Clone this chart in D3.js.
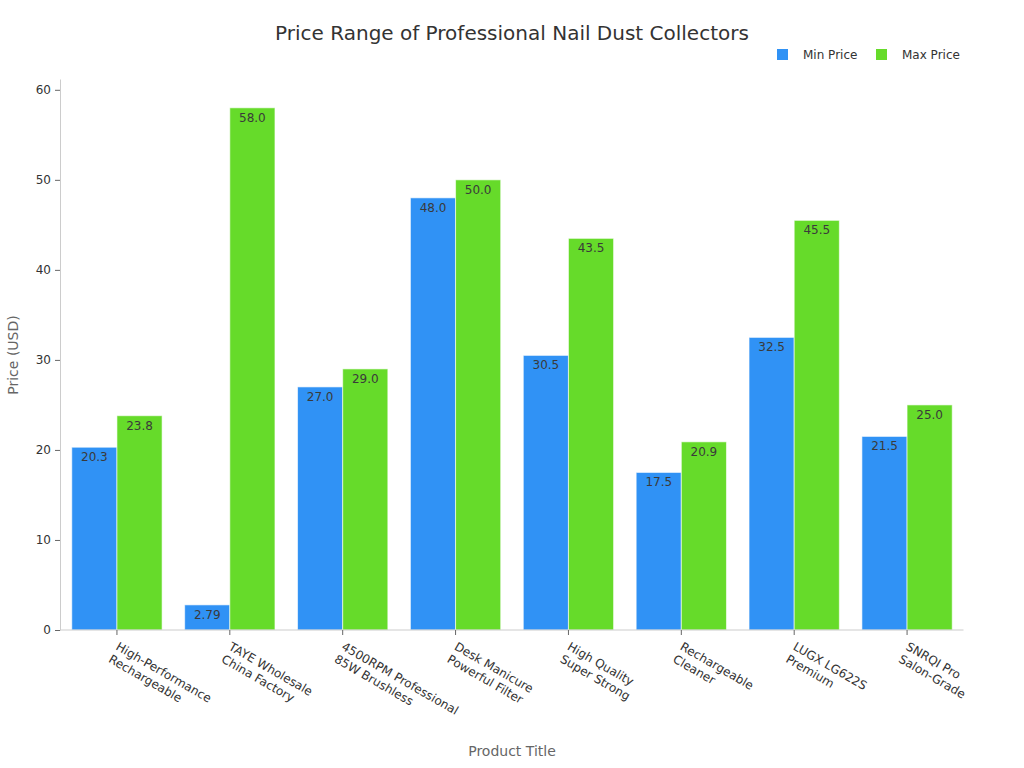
<!DOCTYPE html>
<html>
<head>
<meta charset="utf-8">
<script src="https://cdn.jsdelivr.net/npm/d3@7"></script>
<style>
  body { margin: 0; background: #fff; }
  text { font-family: "DejaVu Sans", sans-serif; }
</style>
</head>
<body>
<svg id="chart" width="1024" height="768"></svg>
<script>
const categories = [
  ["High-Performance", "Rechargeable"],
  ["TAYE Wholesale", "China Factory"],
  ["4500RPM Professional", "85W Brushless"],
  ["Desk Manicure", "Powerful Filter"],
  ["High Quality", "Super Strong"],
  ["Rechargeable", "Cleaner"],
  ["LUGX LG622S", "Premium"],
  ["SNRQI Pro", "Salon-Grade"]
];
const minPrice = [20.3, 2.79, 27.0, 48.0, 30.5, 17.5, 32.5, 21.5];
const maxPrice = [23.8, 58.0, 29.0, 50.0, 43.5, 20.9, 45.5, 25.0];
const minLabels = ["20.3", "2.79", "27.0", "48.0", "30.5", "17.5", "32.5", "21.5"];
const maxLabels = ["23.8", "58.0", "29.0", "50.0", "43.5", "20.9", "45.5", "25.0"];
const seriesNames = ["Min Price", "Max Price"];
const seriesColors = ["#3092F5", "#66DB2A"];
const yTicks = [0, 10, 20, 30, 40, 50, 60];

const svg = d3.select("#chart");
const margin = {left: 60, right: 61, top: 79, bottom: 138};
const W = 1024, H = 768;
const x0 = d3.scaleBand().domain(d3.range(categories.length))
  .range([margin.left, W - margin.right]).paddingInner(0.2).paddingOuter(0.1);
const x1 = d3.scaleBand().domain([0, 1]).range([0, x0.bandwidth()]);
const y = d3.scaleLinear().domain([0, 61.2]).range([H - margin.bottom, margin.top]);

// title
svg.append("text").attr("x", 512).attr("y", 40).attr("text-anchor", "middle")
  .attr("font-size", 20).attr("fill", "#333").text("Price Range of Professional Nail Dust Collectors");

// bars
const series = [minPrice, maxPrice];
const labels = [minLabels, maxLabels];
series.forEach((vals, s) => {
  const g = svg.append("g");
  g.selectAll("rect").data(vals).join("rect")
    .attr("x", (d, i) => x0(i) + x1(s) + 0.5)
    .attr("y", d => y(d))
    .attr("width", x1.bandwidth())
    .attr("height", d => y(0) - y(d))
    .attr("fill", seriesColors[s])
    .attr("stroke", "#fff").attr("stroke-width", 1).attr("stroke-opacity", 0.6);
  g.selectAll("text").data(vals).join("text")
    .attr("x", (d, i) => x0(i) + x1(s) + x1.bandwidth() / 2 + 0.5)
    .attr("y", d => y(d) + 14)
    .attr("text-anchor", "middle").attr("font-size", 12).attr("fill", "#3a3a3a")
    .text((d, i) => labels[s][i]);
});

// y axis
const yAxis = d3.axisLeft(y).tickValues(yTicks).tickSize(5).tickPadding(4).tickSizeOuter(0);
const gy = svg.append("g").attr("transform", `translate(${margin.left},0)`).call(yAxis);
gy.select(".domain").attr("stroke", "#ccc");
gy.selectAll(".tick line").attr("stroke", "#666");
gy.selectAll(".tick text").attr("font-size", 12).attr("fill", "#333").attr("font-family", "DejaVu Sans");

// x axis
const xAxis = d3.axisBottom(x0).tickSize(5).tickSizeOuter(0).tickFormat("");
const gx = svg.append("g").attr("transform", `translate(0.5,${H - margin.bottom})`).call(xAxis);
gx.select(".domain").attr("stroke", "#ccc").attr("d", `M${margin.left - 0.5},0H${W - margin.right}`);
gx.selectAll(".tick line").attr("stroke", "#666");
gx.selectAll(".tick").each(function(d) {
  const t = d3.select(this).append("text")
    .attr("transform", "translate(-2,19) rotate(30)")
    .attr("text-anchor", "start").attr("font-size", 12).attr("fill", "#333")
    .attr("font-family", "DejaVu Sans");
  categories[d].forEach((line, k) => {
    t.append("tspan").attr("x", 0).attr("dy", k === 0 ? 0 : 14.5).text(line);
  });
});

// axis titles
svg.append("text").attr("x", 512).attr("y", 756).attr("text-anchor", "middle")
  .attr("font-size", 14).attr("fill", "#666").text("Product Title");
svg.append("text").attr("transform", "translate(18,355) rotate(-90)").attr("text-anchor", "middle")
  .attr("font-size", 14).attr("fill", "#666").text("Price (USD)");

// legend
const legend = svg.append("g");
const legX = [777, 876];
seriesNames.forEach((name, s) => {
  legend.append("rect").attr("x", legX[s]).attr("y", 49).attr("width", 11).attr("height", 11)
    .attr("fill", seriesColors[s]);
  legend.append("text").attr("x", legX[s] + 26).attr("y", 59).attr("font-size", 12)
    .attr("fill", "#333").text(name);
});
</script>
</body>
</html>
